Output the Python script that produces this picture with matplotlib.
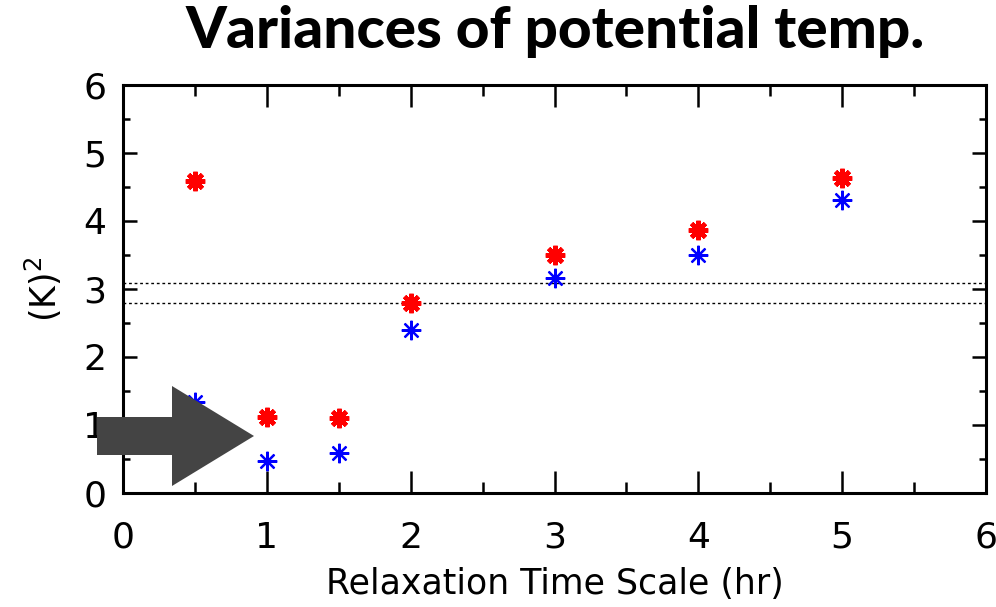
import matplotlib
matplotlib.use("Agg")
import matplotlib.pyplot as plt
from matplotlib.patches import Polygon
from matplotlib.ticker import MultipleLocator

# relaxation time scale (hr) and temperature variances (K^2)
hours = [0.5, 1.0, 1.5, 2.0, 3.0, 4.0, 5.0]
var_red = [4.59, 1.12, 1.10, 2.79, 3.50, 3.87, 4.63]
var_blue = [1.34, 0.47, 0.59, 2.40, 3.16, 3.50, 4.31]
ref_levels = [3.09, 2.79]

plt.rcParams['font.family'] = ['DejaVu Sans']
plt.rcParams['mathtext.default'] = 'regular'

fig = plt.figure(figsize=(9.96, 6.07), dpi=100)
ax = fig.add_axes([0.1235, 0.188, 0.8665, 0.672])

for y in ref_levels:
    ax.axhline(y, color='black', linestyle=(0, (2, 2)), linewidth=1.0, zorder=1)

ax.plot(hours, var_blue, linestyle='none', marker=(8, 2, 0), markersize=14,
        markeredgecolor='blue', markeredgewidth=1.6, zorder=3)
ax.plot(hours, var_red, linestyle='none', marker=(8, 2, 0), markersize=14,
        markeredgecolor='red', markeredgewidth=3.2, zorder=3)

ax.set_xlim(0, 6)
ax.set_ylim(0, 6)
ax.xaxis.set_major_locator(MultipleLocator(1))
ax.xaxis.set_minor_locator(MultipleLocator(0.5))
ax.yaxis.set_major_locator(MultipleLocator(1))
ax.yaxis.set_minor_locator(MultipleLocator(0.5))
ax.tick_params(axis='x', which='major', direction='in', length=16, width=1.8,
               top=True, labelsize=26, pad=20)
ax.tick_params(axis='x', which='minor', direction='in', length=8, width=1.8, top=True)
ax.tick_params(axis='y', which='major', direction='in', length=10, width=1.8,
               right=True, labelsize=26, pad=12)
ax.tick_params(axis='y', which='minor', direction='in', length=5, width=1.8, right=True)
for s in ax.spines.values():
    s.set_linewidth(2.2)

ax.set_xlabel('Relaxation Time Scale (hr)', fontsize=25, labelpad=9)
ax.set_ylabel('(K)$^2$', fontsize=25, labelpad=14)

fig.text(0.557, 0.948, 'Variances of potential temp.', ha='center', va='center',
         fontsize=42, fontweight='black', family='Lato')

# pointer arrow overlay
arrow_px = [(97, 417), (172, 417), (172, 386), (254, 436),
            (172, 486), (172, 455), (97, 455)]
arrow = Polygon([(x / 996, 1 - y / 607) for x, y in arrow_px], closed=True,
                facecolor='#444444', edgecolor='none', transform=fig.transFigure,
                zorder=10)
fig.patches.append(arrow)

fig.savefig('out.png', dpi=100)
